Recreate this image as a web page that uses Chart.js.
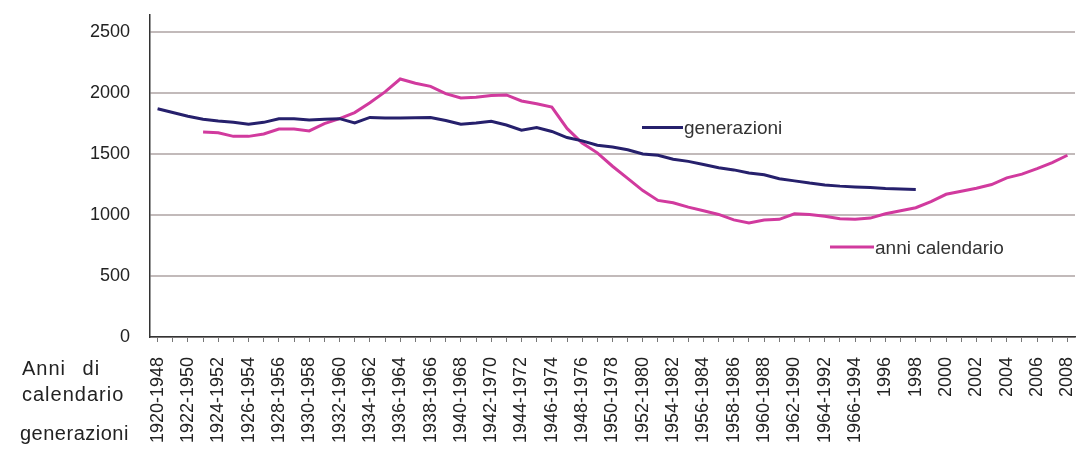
<!DOCTYPE html>
<html><head><meta charset="utf-8">
<script src="https://cdn.jsdelivr.net/npm/chart.js@4.4.1/dist/chart.umd.min.js"></script>
<style>html,body{margin:0;padding:0;background:#fff;overflow:hidden}</style>
</head><body>
<canvas id="c" width="1084" height="456"></canvas>
<script>
// categories: one per calendar year 1948..2008 (generation = calendar year - 28)
const categories = [
  "1920-1948","1921-1949","1922-1950","1923-1951","1924-1952","1925-1953","1926-1954","1927-1955",
  "1928-1956","1929-1957","1930-1958","1931-1959","1932-1960","1933-1961","1934-1962","1935-1963",
  "1936-1964","1937-1965","1938-1966","1939-1967","1940-1968","1941-1969","1942-1970","1943-1971",
  "1944-1972","1945-1973","1946-1974","1947-1975","1948-1976","1949-1977","1950-1978","1951-1979",
  "1952-1980","1953-1981","1954-1982","1955-1983","1956-1984","1957-1985","1958-1986","1959-1987",
  "1960-1988","1961-1989","1962-1990","1963-1991","1964-1992","1965-1993","1966-1994","1995",
  "1996","1997","1998","1999","2000","2001","2002","2003","2004","2005","2006","2007","2008"
];
const generazioni = [
  1871,1840,1810,1785,1770,1760,1745,1760,1790,1790,
  1780,1785,1790,1755,1800,1795,1795,1798,1800,1775,
  1745,1755,1768,1738,1695,1718,1685,1635,1608,1572,
  1558,1535,1500,1490,1458,1440,1415,1388,1370,1345,
  1330,1298,1280,1262,1247,1237,1230,1225,1217,1213,1210
];
const anniCalendario = [
  null,null,null,1680,1675,1645,1645,1665,1705,1705,
  1690,1750,1790,1840,1920,2010,2115,2080,2055,1995,
  1960,1965,1980,1985,1935,1912,1885,1710,1590,1510,
  1400,1300,1200,1120,1100,1065,1035,1005,960,935,
  960,965,1010,1005,990,970,965,975,1010,1035,
  1060,1110,1170,1195,1220,1250,1305,1335,1380,1430,1490
];
const yTickValues = [0,500,1000,1500,2000,2500];
const seriesNames = ["generazioni","anni calendario"];
const axisTexts = ["Anni di","calendario","generazioni"];

const BLUE = '#26206c';
const PINK = '#d13a9e';

const textPlugin = {
  id: 'texts',
  afterDraw(chart) {
    const ctx = chart.ctx;
    ctx.save();
    ctx.fillStyle = '#222';
    ctx.textBaseline = 'alphabetic';
    ctx.textAlign = 'left';
    ctx.font = '20px "Liberation Sans", Arial, sans-serif';
    ctx.letterSpacing = '1px';
    ctx.wordSpacing = '10px';
    ctx.fillText(axisTexts[0], 22, 375);
    ctx.fillText(axisTexts[1], 22, 401);
    ctx.letterSpacing = '0.5px';
    ctx.fillText(axisTexts[2], 20, 440);
    ctx.letterSpacing = '0px';
    ctx.wordSpacing = '0px';
    // in-plot legend entries
    ctx.font = '19px "Liberation Sans", Arial, sans-serif';
    ctx.lineWidth = 3;
    ctx.strokeStyle = BLUE;
    ctx.beginPath(); ctx.moveTo(642, 127.5); ctx.lineTo(683, 127.5); ctx.stroke();
    ctx.fillStyle = '#333';
    ctx.fillText(seriesNames[0], 684, 134);
    ctx.strokeStyle = PINK;
    ctx.beginPath(); ctx.moveTo(830, 247); ctx.lineTo(874, 247); ctx.stroke();
    ctx.fillText(seriesNames[1], 875, 254);
    ctx.restore();
  }
};

new Chart(document.getElementById('c'), {
  type: 'line',
  data: {
    labels: categories,
    datasets: [
      { label: seriesNames[0], data: generazioni, borderColor: BLUE, borderWidth: 3,
        pointRadius: 0, tension: 0, fill: false },
      { label: seriesNames[1], data: anniCalendario, borderColor: PINK, borderWidth: 3,
        pointRadius: 0, tension: 0, fill: false, spanGaps: false }
    ]
  },
  options: {
    responsive: false,
    animation: false,
    devicePixelRatio: 1,
    layout: { padding: { left: 0, right: 9, top: 15, bottom: 0 } },
    plugins: { legend: { display: false }, tooltip: { enabled: false } },
    scales: {
      x: {
        type: 'category',
        offset: true,
        afterFit(scale) {
          scale.height = 119;
          scale.paddingLeft = 0; scale.paddingRight = 0;
          scale.paddingTop = 0; scale.paddingBottom = 0;
        },
        grid: { drawOnChartArea: false, drawTicks: true, tickLength: 5, color: '#777', offset: false },
        border: { color: '#333', width: 1.5 },
        ticks: {
          autoSkip: false, minRotation: 90, maxRotation: 90, padding: 15,
          color: '#222', font: { family: '"Liberation Sans", Arial, sans-serif', size: 18 },
          callback(v, i) { return i % 2 === 0 ? categories[i] : ''; }
        }
      },
      y: {
        min: 0, max: 2640,
        afterFit(scale) {
          scale.width = 150;
          scale.paddingLeft = 0; scale.paddingRight = 0;
          scale.paddingTop = 0; scale.paddingBottom = 0;
        },
        afterBuildTicks(scale) {
          scale.ticks = yTickValues.map(v => ({ value: v })).concat([{ value: 2640 }]);
        },
        grid: {
          drawTicks: false,
          color: c => (c.tick && c.tick.value % 500 === 0) ? '#c2baba' : 'rgba(0,0,0,0)',
          lineWidth: 2
        },
        border: { color: '#333', width: 1.5 },
        ticks: {
          padding: 20, color: '#222',
          font: { family: '"Liberation Sans", Arial, sans-serif', size: 18 },
          callback(v) { return yTickValues.includes(v) ? String(v) : ''; }
        }
      }
    }
  },
  plugins: [textPlugin]
});
</script>
</body></html>
